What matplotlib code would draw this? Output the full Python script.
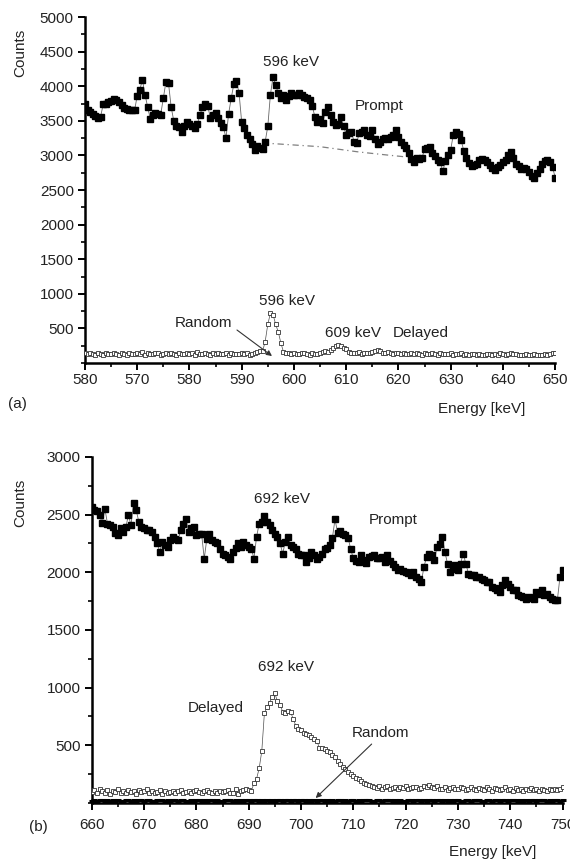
# %% Imports
import numpy as np
import matplotlib
matplotlib.use("Agg")
import matplotlib.pyplot as plt
from matplotlib.ticker import MultipleLocator

plt.rcParams['font.family'] = ['Liberation Sans', 'DejaVu Sans']
TXT = "#222222"

# %% Data - panel (a), 560-650 keV, 0.5 keV bins
energy_a = np.arange(560, 650.01, 0.5)

prompt_a = [3750, 3660, 3630, 3600, 3570, 3540, 3560, 3740, 3750, 3770,
            3790, 3820, 3800, 3770, 3730, 3690, 3670, 3650, 3660, 3650,
            3860, 3950, 4090, 3880, 3700, 3530, 3580, 3610, 3600, 3590,
            3830, 4060, 4040, 3700, 3500, 3430, 3410, 3340, 3430, 3480,
            3460, 3430, 3390, 3450, 3580, 3700, 3740, 3720, 3540, 3580,
            3610, 3540, 3470, 3410, 3250, 3600, 3830, 4030, 4080, 3900,
            3480, 3390, 3300, 3240, 3170, 3080, 3140, 3100, 3090, 3200,
            3420, 3880, 4130, 4020, 3900, 3830, 3870, 3800, 3860, 3900,
            3870, 3880, 3900, 3880, 3850, 3830, 3800, 3720, 3560, 3480,
            3520, 3470, 3630, 3700, 3580, 3490, 3440, 3460, 3550, 3420,
            3300, 3320, 3340, 3200, 3180, 3320, 3340, 3360, 3300, 3280,
            3360, 3230, 3160, 3190, 3230, 3250, 3240, 3270, 3300, 3370,
            3260, 3200, 3150, 3110, 3030, 2950, 2910, 2960, 2950, 2960,
            3090, 3110, 3120, 3040, 2990, 2940, 2900, 2770, 2920, 3000,
            3080, 3300, 3340, 3310, 3220, 3070, 2960, 2890, 2840, 2860,
            2880, 2930, 2950, 2940, 2900, 2860, 2820, 2790, 2830, 2860,
            2900, 2940, 3010, 3050, 2960, 2880, 2840, 2810, 2820, 2800,
            2760, 2700, 2670, 2740, 2810, 2870, 2920, 2940, 2900, 2830,
            2680]

delayed_a = [140, 125, 150, 130, 115, 145, 135, 120, 150, 130,
             125, 140, 135, 115, 150, 130, 120, 145, 135, 125,
             150, 130, 165, 120, 140, 135, 125, 150, 140, 115,
             135, 145, 125, 140, 130, 120, 150, 135, 125, 145,
             130, 140, 120, 155, 135, 125, 145, 130, 120, 140,
             135, 150, 125, 130, 140, 120, 145, 130, 135, 125,
             140, 130, 150, 120, 135, 145, 160, 180,
             170, 310, 560, 720, 700, 560, 450, 290, 160, 140,
             145, 130, 150, 135, 125, 140, 150, 130, 120, 145, 135, 125, 140, 155, 170, 160,
             190, 210, 240, 265, 250, 215, 200, 160,
             145, 150, 140, 155, 135, 145, 150, 140, 160, 175,
             185, 170, 150, 140, 160, 145, 135, 150, 140, 130,
             145, 135, 125, 140, 130, 150, 135, 120, 140, 130,
             125, 140, 135, 120, 145, 130, 125, 135, 140, 120,
             130, 125, 140, 115, 130, 120, 135, 125, 115, 130,
             120, 110, 125, 135, 115, 130, 120, 140, 125, 115,
             135, 150, 125, 130, 115, 120, 110, 125, 120, 115,
             125, 110, 120, 115, 130, 120, 125, 145, 140]

# interpolated background under the 596 keV line
bg_energy_a = [594.0, 597.3, 605.0, 612.0, 613.6, 617.8, 621.6]
bg_counts_a = [3180, 3164, 3126, 3054, 3040, 3006, 2977]

# %% Data - panel (b), 660-750 keV, 0.5 keV bins
energy_b = np.arange(660, 750.01, 0.5)

prompt_b = [2567, 2540, 2530, 2500, 2425, 2553, 2423, 2408, 2394, 2340,
            2322, 2380, 2351, 2390, 2495, 2408, 2602, 2538, 2437, 2394,
            2380, 2370, 2365, 2351, 2307, 2250, 2177, 2264, 2240, 2220,
            2280, 2307, 2290, 2278, 2365, 2423, 2466, 2351, 2380, 2394,
            2322, 2336, 2330, 2119, 2293, 2336, 2278, 2260, 2250, 2206,
            2163, 2148, 2130, 2119, 2177, 2210, 2250, 2220, 2264, 2240,
            2220, 2206, 2119, 2307, 2423, 2437, 2487, 2440, 2408, 2365,
            2330, 2307, 2250, 2163, 2264, 2307, 2235, 2220, 2206, 2163,
            2150, 2148, 2090, 2120, 2177, 2148, 2119, 2134, 2163, 2206,
            2210, 2235, 2300, 2460, 2340, 2360, 2335, 2320, 2300, 2200,
            2120, 2100, 2090, 2150, 2110, 2080, 2130, 2140, 2150, 2120,
            2125, 2134, 2090, 2148, 2100, 2076, 2047, 2018, 2033, 2010,
            2000, 1990, 1975, 2004, 1960, 1940, 1917, 2047, 2134, 2160,
            2150, 2105, 2220, 2249, 2307, 2177, 2076, 2004, 2030, 2062,
            2018, 2076, 2163, 2076, 1989, 1980, 1975, 1960, 1960, 1945,
            1931, 1917, 1917, 1874, 1860, 1845, 1831, 1888, 1931, 1903,
            1870, 1845, 1845, 1802, 1795, 1787, 1773, 1787, 1780, 1773,
            1831, 1816, 1845, 1802, 1816, 1790, 1773, 1758, 1760, 1960,
            2018]

delayed_b = [95, 110, 85, 120, 100, 90, 115, 80, 105, 95,
             120, 90, 100, 85, 115, 95, 105, 80, 110, 95,
             100, 120, 90, 105, 85, 95, 110, 80, 100, 90,
             95, 105, 85, 100, 110, 90, 95, 100, 85, 105,
             110, 95, 90, 100, 115, 95, 85, 100, 90, 105,
             95, 100, 110, 90, 85, 120, 75, 100, 115,
             118, 110, 104, 170, 210, 300, 450, 780, 830, 870,
             920, 950, 880, 850, 790, 780, 800, 790, 730, 670,
             640, 630, 610, 600, 590, 575, 555, 540, 480, 475,
             470, 455, 440, 420, 395, 365, 340, 315, 295, 270,
             250, 235, 220, 205, 190, 175, 165, 155, 150,
             140, 130, 150, 125, 135, 145, 120, 130, 140, 125,
             135, 130, 145, 120, 130, 140, 135, 125, 130, 150,
             140, 155, 135, 130, 145, 125, 120, 135, 110, 130,
             140, 125, 120, 135, 130, 115, 125, 140, 120, 110,
             130, 125, 115, 135, 120, 100, 130, 125, 110, 120,
             135, 115, 120, 105, 130, 110, 125, 100, 120, 115,
             130, 110, 120, 105, 125, 115, 100, 120, 110, 125,
             115, 120, 140]

random_b = [20, 25, 18, 30, 22, 15, 28, 20, 24, 19,
            26, 21, 17, 29, 23, 20, 25, 18, 22, 27,
            19, 24, 30, 21, 16, 25, 22, 28, 20, 23,
            18, 26, 22, 19, 27, 24, 20, 17, 25, 21,
            29, 22, 18, 24, 20, 26, 23, 19, 28, 21,
            17, 25, 22, 30, 20, 24, 18, 26, 21, 23,
            27, 19, 24, 22, 18, 25, 21, 29, 20, 23,
            16, 26, 22, 20, 28, 24, 19, 23, 25, 18,
            22, 27, 20, 24, 17, 25, 21, 29, 23, 19,
            24, 20, 26, 18, 22, 28, 21, 25, 19, 23,
            27, 20, 24, 18, 25, 22, 29, 21, 17, 26,
            23, 19, 25, 22, 28, 20, 24, 18, 26, 21,
            20, 25, 23, 17, 27, 22, 19, 24, 21, 28,
            22, 18, 26, 24, 20, 29, 21, 25, 19, 23,
            25, 21, 17, 27, 23, 20, 24, 22, 28, 19,
            21, 26, 23, 19, 25, 22, 18, 27, 24, 20,
            28, 22, 25, 19, 23, 21, 26, 17, 24, 22,
            20, 25, 22, 27, 19, 24, 21, 23, 26, 18,
            22]

# tick labels of panel (a) as printed (first one reads 580)
xticks_a = [560, 570, 580, 590, 600, 610, 620, 630, 640, 650]
xlabels_a = ["580", "570", "580", "590", "600", "610", "620", "630", "640", "650"]
xticks_b = [660, 670, 680, 690, 700, 710, 720, 730, 740, 750]

# %% Figure
fig = plt.figure(figsize=(5.7, 8.59), dpi=100)
ax_a = fig.add_axes([0.149, 0.5774, 0.825, 0.4028])
ax_b = fig.add_axes([0.161, 0.0652, 0.826, 0.4028])

def style_axes(ax, xpad):
    for s in ["top", "right"]:
        ax.spines[s].set_visible(False)
    for s in ["left", "bottom"]:
        ax.spines[s].set_linewidth(1.8)
    ax.xaxis.set_minor_locator(MultipleLocator(5))
    ax.yaxis.set_minor_locator(MultipleLocator(250))
    ax.tick_params(which="major", direction="out", length=5, width=1.4,
                   labelsize=11, colors="black", labelcolor=TXT)
    ax.tick_params(which="minor", direction="out", length=3, width=1.2)
    ax.tick_params(axis="x", which="major", pad=xpad)
    ax.tick_params(axis="y", which="major", pad=3)

def prompt_style(ax, x, y):
    ax.plot(x, y, color="0.4", lw=0.6, marker="s", ms=3.8,
            mfc="black", mec="black", zorder=3)

def delayed_style(ax, x, y):
    ax.plot(x, y, color="0.3", lw=0.5, marker="s", ms=3.4,
            mfc="white", mec="0.2", mew=0.6, zorder=3)

# %% Panel (a)
prompt_style(ax_a, energy_a, prompt_a)
delayed_style(ax_a, energy_a, delayed_a)
ax_a.plot(bg_energy_a, bg_counts_a, color="0.5", lw=0.9, ls=(0, (5, 3, 1, 3)), zorder=2)

ax_a.set_xlim(560, 650)
ax_a.set_ylim(0, 5000)
ax_a.set_xticks(xticks_a)
ax_a.set_xticklabels(xlabels_a)
ax_a.set_yticks(np.arange(500, 5001, 500))
style_axes(ax_a, 2)

ax_a.text(594.1, 4350, "596 keV", fontsize=11, color=TXT, va="center")
ax_a.text(611.7, 3714, "Prompt", fontsize=11, color=TXT, va="center")
ax_a.text(593.3, 896, "596 keV", fontsize=11, color=TXT, va="center")
ax_a.text(606.0, 433, "609 keV", fontsize=11, color=TXT, va="center")
ax_a.text(619.0, 433, "Delayed", fontsize=11, color=TXT, va="center")
ax_a.text(577.2, 578, "Random", fontsize=11, color=TXT, va="center")
ax_a.annotate("", xy=(595.8, 101), xytext=(589.1, 477),
              arrowprops=dict(arrowstyle="-|>", color="0.2", lw=0.8,
                              mutation_scale=8, shrinkA=0, shrinkB=0))

# %% Panel (b)
prompt_style(ax_b, energy_b, prompt_b)
delayed_style(ax_b, energy_b, delayed_b)
ax_b.plot(energy_b, random_b, color="black", marker="_", ms=4, mew=2.2,
          ls="none", zorder=4, clip_on=False)

ax_b.set_xlim(660, 750)
ax_b.set_ylim(0, 3000)
ax_b.set_xticks(xticks_b)
ax_b.set_yticks(np.arange(500, 3001, 500))
style_axes(ax_b, 6)

ax_b.text(691.0, 2634, "692 keV", fontsize=11, color=TXT, va="center")
ax_b.text(712.9, 2452, "Prompt", fontsize=11, color=TXT, va="center")
ax_b.text(691.7, 1178, "692 keV", fontsize=11, color=TXT, va="center")
ax_b.text(678.3, 823, "Delayed", fontsize=11, color=TXT, va="center")
ax_b.text(709.7, 606, "Random", fontsize=11, color=TXT, va="center")
ax_b.annotate("", xy=(702.8, 43), xytext=(713.5, 511),
              arrowprops=dict(arrowstyle="-|>", color="0.2", lw=0.8,
                              mutation_scale=8, shrinkA=0, shrinkB=0))

# %% Figure labels
fig.text(20 / 570, 1 - 53 / 859, "Counts", rotation=90, fontsize=11, color=TXT,
         ha="center", va="center")
fig.text(20 / 570, 1 - 503 / 859, "Counts", rotation=90, fontsize=11, color=TXT,
         ha="center", va="center")
fig.text(482 / 570, 1 - 409 / 859, "Energy [keV]", fontsize=11, color=TXT,
         ha="center", va="center")
fig.text(493 / 570, 1 - 852 / 859, "Energy [keV]", fontsize=11, color=TXT,
         ha="center", va="center")
fig.text(8 / 570, 1 - 404 / 859, "(a)", fontsize=11, color=TXT, va="center")
fig.text(29 / 570, 1 - 827 / 859, "(b)", fontsize=11, color=TXT, va="center")

fig.savefig("out.png", dpi=100)
